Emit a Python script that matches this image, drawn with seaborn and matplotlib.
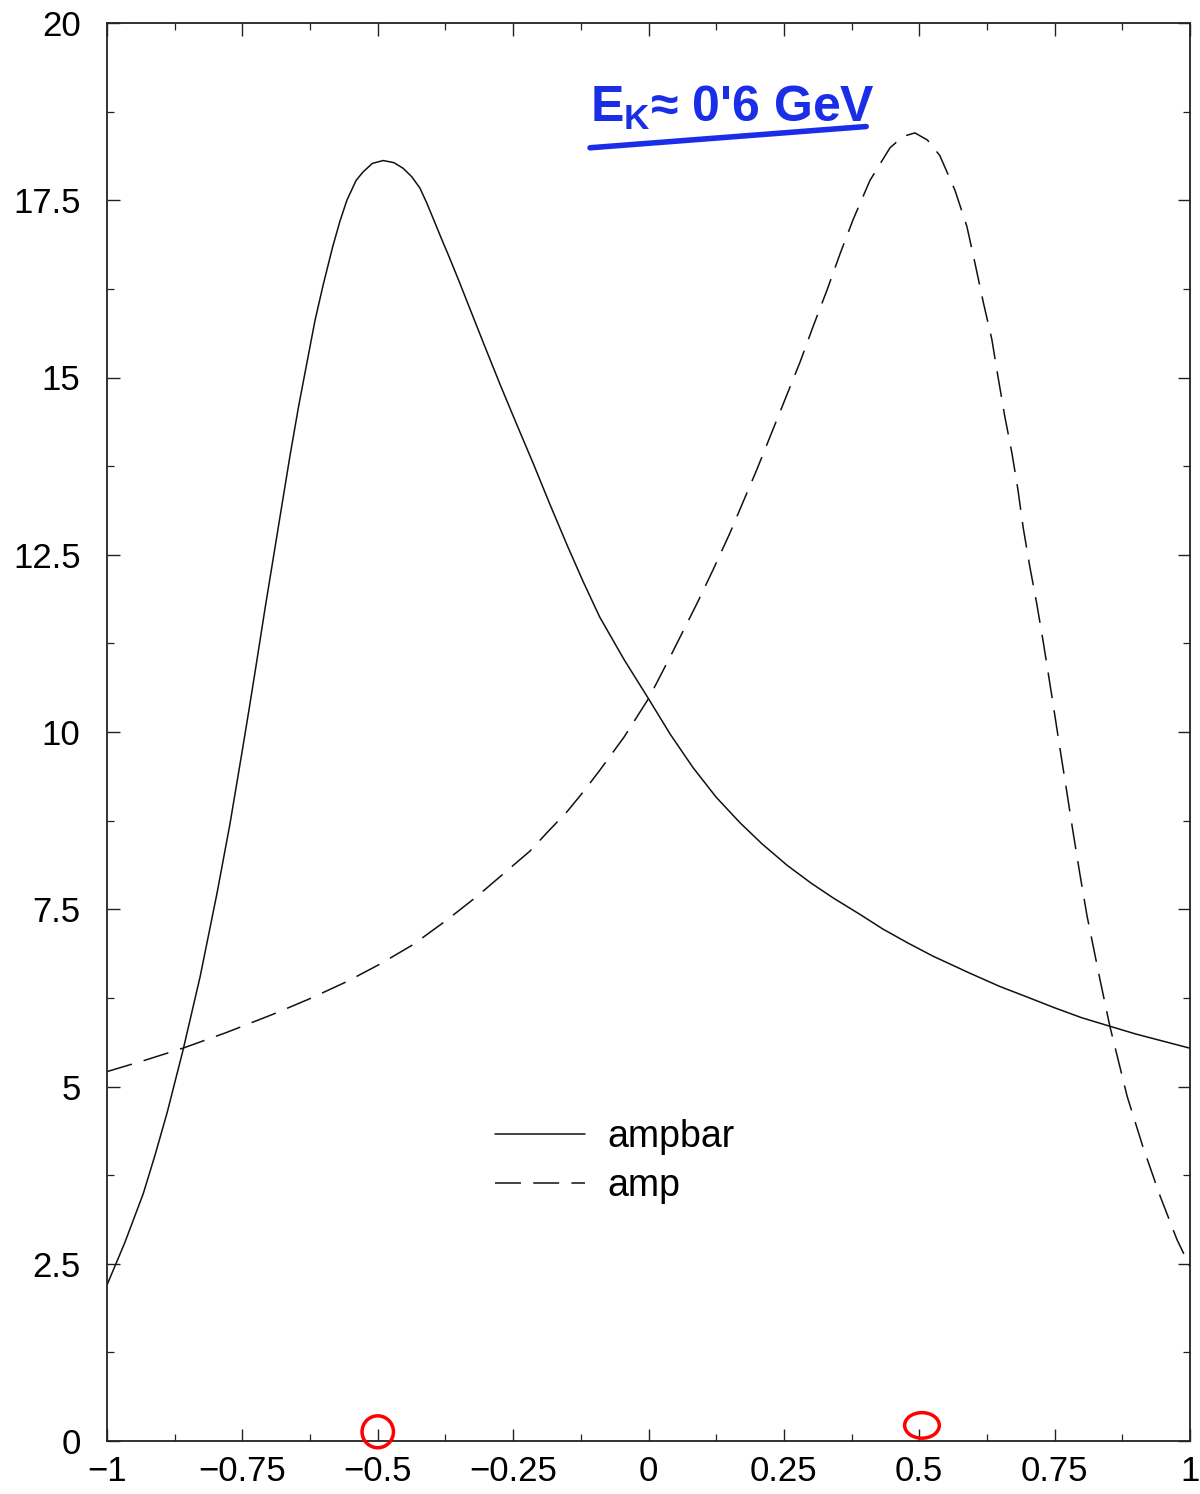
import numpy as np
import pandas as pd
import matplotlib
matplotlib.use("Agg")
import matplotlib.pyplot as plt
import seaborn as sns
from matplotlib.patches import Ellipse
from matplotlib.lines import Line2D

# ---- data ----
ampbar_x = [-1.000, -0.967, -0.933, -0.911, -0.889, -0.860, -0.828, -0.797, -0.773,
            -0.751, -0.737, -0.723, -0.708, -0.693, -0.677, -0.662, -0.646, -0.631,
            -0.616, -0.601, -0.583, -0.570, -0.557, -0.540, -0.527, -0.510, -0.490,
            -0.470, -0.453, -0.437, -0.422, -0.410, -0.398, -0.383, -0.367, -0.351,
            -0.335, -0.305, -0.274, -0.244, -0.213, -0.182, -0.150, -0.120, -0.090,
            -0.045, 0.000, 0.040, 0.082, 0.125, 0.169, 0.210, 0.256, 0.300, 0.341,
            0.390, 0.433, 0.480, 0.525, 0.590, 0.649, 0.700, 0.750, 0.800, 0.852,
            0.900, 0.950, 1.000]
ampbar_y = [2.20, 2.80, 3.49, 4.04, 4.63, 5.50, 6.55, 7.72, 8.70,
            9.70, 10.35, 11.02, 11.75, 12.45, 13.20, 13.90, 14.60, 15.20,
            15.80, 16.30, 16.85, 17.20, 17.50, 17.78, 17.90, 18.02, 18.06,
            18.03, 17.95, 17.83, 17.67, 17.47, 17.25, 16.97, 16.68, 16.38,
            16.07, 15.49, 14.90, 14.35, 13.79, 13.21, 12.63, 12.11, 11.62,
            11.02, 10.47, 9.97, 9.50, 9.08, 8.72, 8.42, 8.12, 7.87, 7.66,
            7.43, 7.22, 7.02, 6.84, 6.61, 6.41, 6.26, 6.11, 5.97, 5.85,
            5.74, 5.64, 5.54]

amp_x = [-1.000, -0.930, -0.860, -0.780, -0.693, -0.625, -0.557, -0.495, -0.435,
         -0.372, -0.317, -0.268, -0.219, -0.185, -0.150, -0.120, -0.090, -0.045,
         0.000, 0.040, 0.090, 0.120, 0.150, 0.200, 0.250, 0.280, 0.304, 0.330,
         0.354, 0.378, 0.409, 0.446, 0.470, 0.492, 0.515, 0.538, 0.566, 0.588,
         0.603, 0.618, 0.634, 0.645, 0.658, 0.671, 0.682, 0.692, 0.704, 0.717,
         0.729, 0.745, 0.760, 0.772, 0.784, 0.797, 0.810, 0.822, 0.834, 0.852,
         0.884, 0.913, 0.945, 0.976, 1.000]
amp_y = [5.21, 5.37, 5.54, 5.76, 6.02, 6.24, 6.48, 6.73, 7.00,
         7.35, 7.68, 8.00, 8.32, 8.60, 8.88, 9.16, 9.46, 9.93,
         10.47, 11.06, 11.82, 12.30, 12.80, 13.70, 14.65, 15.22, 15.72, 16.24,
         16.75, 17.23, 17.78, 18.24, 18.40, 18.45, 18.35, 18.13, 17.64, 17.13,
         16.61, 16.07, 15.54, 15.03, 14.45, 13.94, 13.43, 12.88, 12.34, 11.81,
         11.27, 10.50, 9.76, 9.18, 8.59, 7.98, 7.40, 6.95, 6.50, 5.85,
         4.86, 4.15, 3.45, 2.84, 2.46]

series_labels = ["ampbar", "amp"]
x_ticks = [-1, -0.75, -0.5, -0.25, 0, 0.25, 0.5, 0.75, 1]
x_ticklabels = ["\u22121", "\u22120.75", "\u22120.5", "\u22120.25", "0", "0.25", "0.5", "0.75", "1"]
y_ticks = [0, 2.5, 5, 7.5, 10, 12.5, 15, 17.5, 20]
y_ticklabels = ["0", "2.5", "5", "7.5", "10", "12.5", "15", "17.5", "20"]
annotation_text = "E$_\\mathregular{K}$\u2248 0'6 GeV"
circled_x = [-0.5, 0.5]

df_bar = pd.DataFrame({"x": ampbar_x, "y": ampbar_y})
df_amp = pd.DataFrame({"x": amp_x, "y": amp_y})

sns.set_theme(style="ticks")
plt.rcParams["font.family"] = ["Liberation Sans", "DejaVu Sans"]
plt.rcParams.update({
    "xtick.direction": "in", "ytick.direction": "in",
    "xtick.top": True, "ytick.right": True,
    "axes.linewidth": 1.3, "axes.edgecolor": "#222222",
    "text.color": "black",
})

fig = plt.figure(figsize=(12, 14.94), dpi=100)
ax = fig.add_axes([107 / 1200, 53 / 1494, 1083 / 1200, 1418 / 1494])

sns.lineplot(data=df_bar, x="x", y="y", ax=ax, color="#111111", lw=1.1,
             estimator=None, sort=False, label=series_labels[0])
sns.lineplot(data=df_amp, x="x", y="y", ax=ax, color="#111111", lw=1.1,
             estimator=None, sort=False, label=series_labels[1], dashes=False)
ax.lines[1].set_dashes((17, 8))

ax.set_xlim(-1, 1)
ax.set_ylim(0, 20)
ax.set_xlabel("")
ax.set_ylabel("")
ax.set_xticks(x_ticks)
ax.set_xticklabels(x_ticklabels)
ax.set_yticks(y_ticks)
ax.set_yticklabels(y_ticklabels)
ax.set_xticks(np.arange(-1, 1.001, 0.125), minor=True)
ax.set_yticks(np.arange(0, 20.001, 1.25), minor=True)
ax.tick_params(which="major", length=9, width=1.0, color="#222222", labelsize=25,
               labelcolor="black")
ax.tick_params(which="minor", length=5, width=0.9, color="#222222")
ax.tick_params(axis="y", which="major", pad=19)
ax.tick_params(axis="x", which="major", pad=10)
for s in ax.spines.values():
    s.set_visible(True)

leg_handles = [Line2D([], [], color="#111111", lw=1.1),
               Line2D([], [], color="#111111", lw=1.1, dashes=(17, 8))]
ax.legend(leg_handles, series_labels, loc="center left", bbox_to_anchor=(0.358, 0.197),
          frameon=False, fontsize=27, handlelength=2.4, handletextpad=0.6,
          labelspacing=0.36, borderpad=0, borderaxespad=0)

# handwritten-style blue annotation
ax.text(0.446, 0.930, annotation_text, transform=ax.transAxes, color="#1a2ee8",
        fontsize=36, fontweight="bold", ha="left", va="baseline")
ax.add_line(Line2D([0.446, 0.701], [0.912, 0.927], transform=ax.transAxes,
                   color="#1a2ee8", lw=4, solid_capstyle="round"))

# red circles around the ticks at -0.5 and 0.5
ax.add_patch(Ellipse((circled_x[0], 0.13), 0.058, 0.45, fill=False, ec="red",
                     lw=2.5, clip_on=False, zorder=5))
ax.add_patch(Ellipse((circled_x[1] + 0.005, 0.22), 0.064, 0.36, fill=False, ec="red",
                     lw=2.5, clip_on=False, zorder=5))

fig.savefig("out.png", dpi=100)
